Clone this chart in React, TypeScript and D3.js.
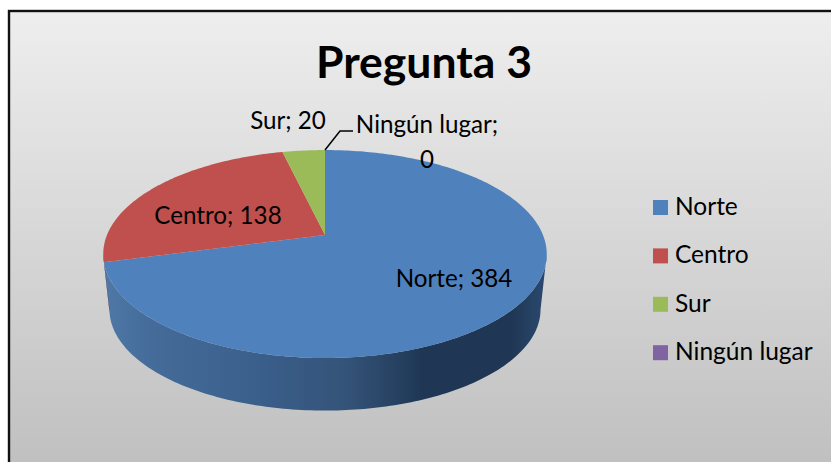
import React from "react";
import * as d3 from "d3";

const categories = ["Norte", "Centro", "Sur", "Ningún lugar"];
const values = [384, 138, 20, 0];
const colors = ["#4f81bd", "#c0504d", "#9bbb59", "#8064a2"];
const wallDark = ["#1f3552", "#5a2523", "", ""];
const labelPos = [
  { x: 454, y: 287, anchor: "middle" },
  { x: 218, y: 224, anchor: "middle" },
  { x: 288, y: 129, anchor: "middle" },
];

const W = 831, H = 462;
const FONT = "Lato, Carlito, 'Open Sans', sans-serif";

// perspective projection of the pie disc
const apex = { x: 325, y: 235 };
const persp = 0.183, radX = 218, radY = 100.5;
const project = (deg: number, scale = 1, dy = 0) => {
  const a = (deg * Math.PI) / 180;
  const u = Math.sin(a), v = Math.cos(a);
  const w = 1 + persp * v;
  return [apex.x + (scale * radX * u) / w, apex.y + dy - (scale * radY * v) / w] as [number, number];
};
const sample = (a0: number, a1: number, scale = 1, dy = 0) => {
  const n = Math.max(2, Math.ceil(Math.abs(a1 - a0)));
  return d3.range(n + 1).map((i) => project(a0 + ((a1 - a0) * i) / n, scale, dy));
};

const line = d3.line();
const pie = d3.pie<number>().sort(null).startAngle(0).endAngle(2 * Math.PI);
const deg = (r: number) => (r * 180) / Math.PI;
const slices = pie(values).map((s) => ({ a0: deg(s.startAngle), a1: deg(s.endAngle) }));

const FRONT0 = 100.5, FRONT1 = 259.5;
const WALL_SCALE = 0.972, WALL_DY = 56;

export default function App() {
  return (
    <svg width={W} height={H} style={{ position: "absolute", left: 0, top: 0, display: "block" }}>
      <defs>
        <linearGradient id="bg" x1="0" y1="0" x2="0" y2="1">
          <stop offset="0" stopColor="#eeeeee" />
          <stop offset="1" stopColor="#bdbdbd" />
        </linearGradient>
        <linearGradient id="wall0" gradientUnits="userSpaceOnUse" x1="103" y1="0" x2="547" y2="0">
          <stop offset="0" stopColor="#5079a8" />
          <stop offset="0.1" stopColor="#456c9a" />
          <stop offset="0.35" stopColor="#3a5f8b" />
          <stop offset="0.55" stopColor="#345378" />
          <stop offset="0.72" stopColor="#1f3755" />
          <stop offset="0.92" stopColor="#1f3754" />
          <stop offset="1" stopColor="#2b4a70" />
        </linearGradient>
      </defs>
      <rect width={W} height={H} fill="#ffffff" />
      <rect x={9} y={11} width={W + 20} height={H + 20} fill="url(#bg)" stroke="#111111" strokeWidth={2.4} />

      {slices.map((s, i) => {
        const a0 = Math.max(s.a0, FRONT0), a1 = Math.min(s.a1, FRONT1);
        if (a1 <= a0) return null;
        const pts = [...sample(a0, a1), ...sample(a1, a0, WALL_SCALE, WALL_DY)];
        return (
          <path key={categories[i]} d={line(pts) + "Z"}
            fill={i === 0 ? "url(#wall0)" : wallDark[i]} />
        );
      })}

      {slices.map((s, i) =>
        s.a1 > s.a0 ? (
          <path key={categories[i]}
            d={line([[apex.x, apex.y], ...sample(s.a0, s.a1)]) + "Z"}
            fill={colors[i]} />
        ) : null
      )}

      <path d={line([project(slices[3].a0), [340, 131], [353, 131]]) ?? ""} fill="none" stroke="#000" strokeWidth={1.5} />

      <text x={424} y={78} textAnchor="middle" fontFamily={FONT} fontWeight={700} fontSize={44.5} fill="#000">Pregunta 3</text>

      <g fontFamily={FONT} fontSize={24.2} fill="#000">
        {labelPos.map((p, i) => (
          <text key={categories[i]} x={p.x} y={p.y} textAnchor={p.anchor}>{`${categories[i]}; ${values[i]}`}</text>
        ))}
        <text x={427} y={133} textAnchor="middle">{`${categories[3]};`}</text>
        <text x={427} y={168} textAnchor="middle">{values[3]}</text>
      </g>

      <g fontFamily={FONT} fontSize={24.5} fill="#000">
        {categories.map((c, i) => {
          const y = 200 + i * 48.4;
          return (
            <g key={c}>
              <rect x={653} y={y} width={15} height={15} fill={colors[i]} />
              <text x={675} y={y + 15}>{c}</text>
            </g>
          );
        })}
      </g>
    </svg>
  );
}
